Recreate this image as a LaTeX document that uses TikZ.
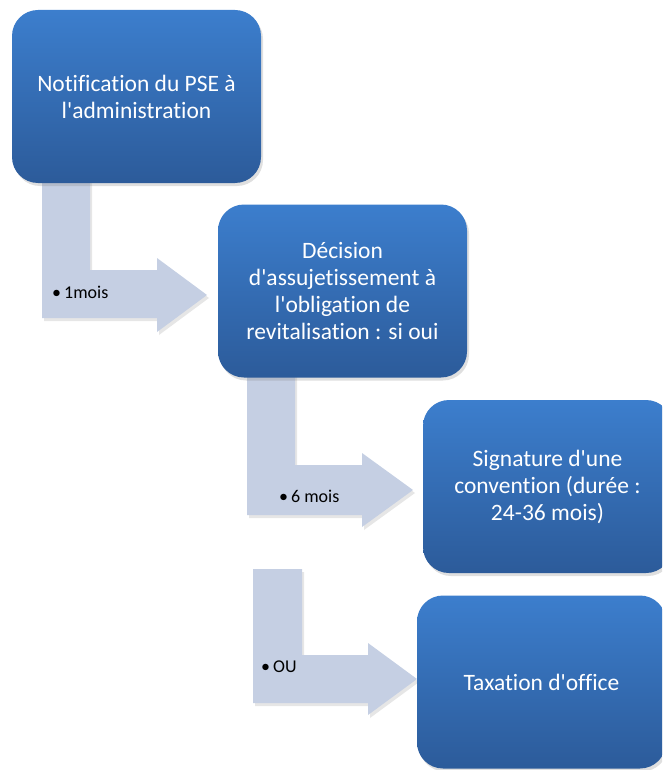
\documentclass[tikz,border=0pt]{standalone}
\usepackage{fontspec}
\setmainfont{Carlito}[Ligatures=NoCommon]
\usetikzlibrary{shadows}
\definecolor{boxtop}{HTML}{3C7ECD}
\definecolor{boxbot}{HTML}{2C5B9A}
\definecolor{arrfill}{HTML}{C5CFE3}
\newcommand{\ap}{\textquotesingle}
\begin{document}
\begin{tikzpicture}[x=1pt,y=-1pt,
  stepbox/.style={rounded corners=26pt, top color=boxtop, bottom color=boxbot,
    draw=none, text=white, align=center, font=\fontsize{23.5}{27}\selectfont,
    minimum width=249pt, minimum height=173pt, inner sep=0pt,
    drop shadow={opacity=0.25, shadow xshift=2pt, shadow yshift=-3pt}},
  bentarrow/.style={fill=arrfill, draw=none,
    drop shadow={opacity=0.2, shadow xshift=2pt, shadow yshift=-3pt}},
  arrlabel/.style={font=\fontsize{18}{21}\selectfont, anchor=west, inner sep=0pt}]
\useasboundingbox (0,0) rectangle (662,770);
\clip (0,0) rectangle (662,770);
% bent arrows (drawn behind boxes)
\path[bentarrow] (42,175) -- (90,175) -- (90,270) -- (157,270) -- (157,258)
  -- (207,295) -- (157,332) -- (157,318) -- (42,318) -- cycle;
\node[arrlabel] (l1) at (52,292) {\textbullet\,1mois};
\path[bentarrow] (247,370) -- (295,370) -- (295,465) -- (362,465) -- (362,453)
  -- (413,490) -- (362,527) -- (362,515) -- (247,515) -- cycle;
\node[arrlabel] (l2) at (279,496) {\textbullet\,6 mois};
\path[bentarrow] (253,569) -- (302,569) -- (302,655) -- (368,655) -- (368,643)
  -- (417,679) -- (368,715) -- (368,703) -- (253,703) -- cycle;
\node[arrlabel] (l3) at (261,667) {\textbullet\,OU};
% boxes
\node[stepbox] (b1) at (136.5,96.5) {Notification du PSE à\\l\ap administration};
\node[stepbox] (b2) at (342.5,291) {Décision\\d\ap assujetissement à\\l\ap obligation de\\revitalisation : si oui};
\node[stepbox] (b3) at (547.5,486.5) {Signature d\ap une\\convention (durée :\\24-36 mois)};
\node[stepbox] (b4) at (541.5,682) {Taxation d\ap office};
\end{tikzpicture}
\end{document}
